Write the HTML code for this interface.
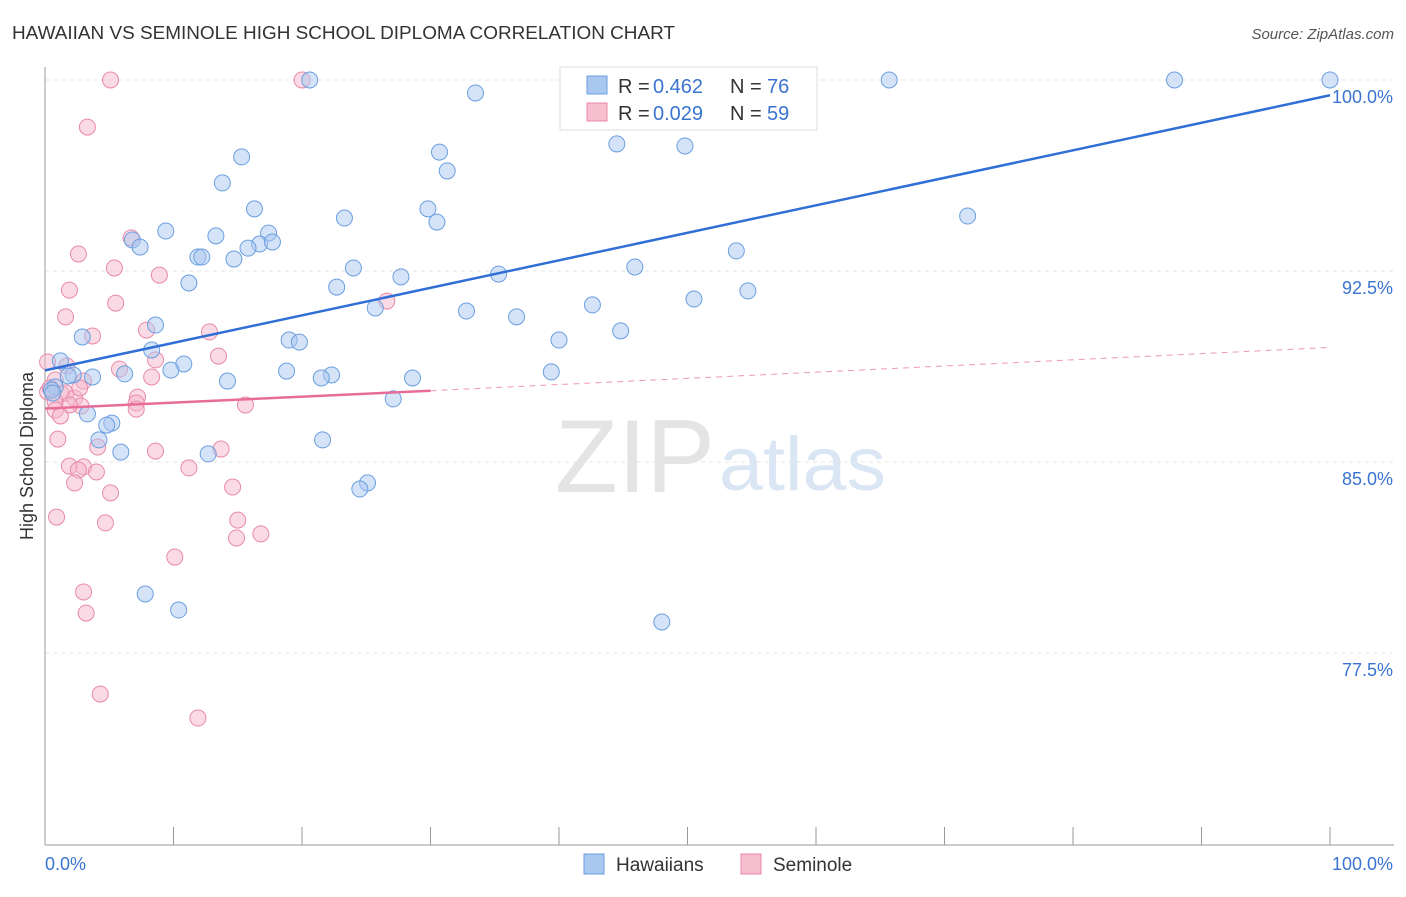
<!DOCTYPE html>
<html><head><meta charset="utf-8"><style>
body{margin:0;background:#fff;font-family:"Liberation Sans",sans-serif;}
svg text{font-family:"Liberation Sans",sans-serif;}
</style></head><body>
<svg id="chart" width="1406" height="892" xmlns="http://www.w3.org/2000/svg">
<text x="12" y="39" font-size="18" fill="#333" textLength="663" lengthAdjust="spacingAndGlyphs">HAWAIIAN VS SEMINOLE HIGH SCHOOL DIPLOMA CORRELATION CHART</text>
<text x="1394" y="39" font-size="15" fill="#555" text-anchor="end" font-style="italic">Source: ZipAtlas.com</text>
<text x="555" y="492" font-size="104" fill="#e4e4e4" font-family="Liberation Serif" textLength="160" lengthAdjust="spacingAndGlyphs">ZIP</text>
<text x="719" y="490" font-size="76" fill="#dbe6f5" textLength="167" lengthAdjust="spacingAndGlyphs">atlas</text>
<g id="grid"></g><g id="axes"></g><g id="pts"></g><g id="lines"></g>
<text transform="translate(33,456) rotate(-90)" font-size="18" fill="#333" text-anchor="middle">High School Diploma</text>
<g>
<rect x="560" y="67" width="257" height="63" fill="#fff" stroke="#ddd"/>
<rect x="587" y="76" width="20" height="18" fill="#a9c8f0" stroke="#6a9fe0"/>
<rect x="587" y="103" width="20" height="18" fill="#f7bed0" stroke="#e88aa8"/>
<text x="618" y="93" font-size="20" fill="#333">R =</text>
<text x="653" y="93" font-size="20" fill="#3a74d0">0.462</text>
<text x="730" y="93" font-size="20" fill="#333">N =</text>
<text x="767" y="93" font-size="20" fill="#3a74d0">76</text>
<text x="618" y="120" font-size="20" fill="#333">R =</text>
<text x="653" y="120" font-size="20" fill="#3a74d0">0.029</text>
<text x="730" y="120" font-size="20" fill="#333">N =</text>
<text x="767" y="120" font-size="20" fill="#3a74d0">59</text>
</g>
<g>
<rect x="584" y="854" width="20" height="20" fill="#a9c8f0" stroke="#6a9fe0"/>
<text x="616" y="871" font-size="19" fill="#333">Hawaiians</text>
<rect x="741" y="854" width="20" height="20" fill="#f7bed0" stroke="#e88aa8"/>
<text x="773" y="871" font-size="19" fill="#333">Seminole</text>
</g>
</svg>
<script>
const yTicks=[100,92.5,85,77.5];
const yTickLabels=["100.0%","92.5%","85.0%","77.5%"];
const xLabels=["0.0%","100.0%"];
const blueX=[20.6,33.5,65.7,87.9,100,44.5,49.8,30.7,15.3,31.3,13.8,16.3,29.8,23.3,30.5,71.8,9.4,17.4,13.3,6.8,7.4,16.7,17.7,15.8,11.9,12.2,14.7,24.0,35.3,45.9,53.8,27.7,11.2,22.7,54.7,50.5,42.6,25.7,32.8,36.7,44.8,8.6,2.9,19.0,19.8,40.0,8.3,1.2,10.8,9.8,18.8,39.4,2.2,3.7,6.2,22.3,21.5,28.6,14.2,0.8,0.5,27.1,3.3,5.2,4.8,4.2,21.6,5.9,12.7,25.1,24.5,7.8,10.4,48.0,0.6,1.8];
const blueY=[100,99.49,100,100,100,97.49,97.41,97.17,96.98,96.43,95.96,94.94,94.94,94.58,94.42,94.66,94.07,93.99,93.88,93.72,93.44,93.56,93.64,93.40,93.05,93.05,92.97,92.62,92.38,92.66,93.29,92.27,92.03,91.87,91.72,91.40,91.17,91.05,90.93,90.70,90.15,90.38,89.91,89.79,89.71,89.79,89.40,88.97,88.85,88.61,88.57,88.54,88.42,88.34,88.46,88.42,88.30,88.30,88.18,87.95,87.83,87.48,86.89,86.53,86.45,85.87,85.87,85.39,85.32,84.18,83.94,79.82,79.19,78.72,87.71,88.38];
const pinkX=[5.1,20.0,3.3,6.7,2.6,5.4,8.9,1.9,5.5,1.6,3.7,7.9,12.8,26.6,13.5,0.2,8.6,1.7,5.8,8.3,0.8,3.0,0.2,1.3,1.6,2.3,0.8,7.2,7.1,2.8,1.9,15.6,0.8,1.2,7.1,1.0,4.1,8.6,13.7,1.9,3.0,2.6,4.0,11.2,2.3,5.1,14.6,0.9,4.7,15.0,14.9,16.8,10.1,3.0,3.2,4.3,11.9,0.4,2.7];
const pinkY=[100,100,98.15,93.80,93.17,92.62,92.34,91.75,91.24,90.70,89.95,90.18,90.11,91.32,89.16,88.93,89.01,88.77,88.65,88.34,88.22,88.18,87.75,87.67,87.71,87.51,87.36,87.55,87.32,87.20,87.24,87.24,87.04,86.81,87.08,85.90,85.59,85.43,85.51,84.84,84.81,84.69,84.61,84.77,84.18,83.79,84.02,82.84,82.61,82.72,82.02,82.18,81.27,79.90,79.07,75.89,74.95,87.91,87.91];
const blueTrend=[[0,88.6],[100,99.4]];
const pinkTrend=[[0,87.1],[30,87.8],[100,89.5]];
const NS="http://www.w3.org/2000/svg";
const xs=v=>45+v*12.85, ys=v=>80+(100-v)*25.47;
function mk(t,a,p){const e=document.createElementNS(NS,t);for(const k in a)e.setAttribute(k,a[k]);document.getElementById(p).appendChild(e);return e;}
yTicks.forEach((t,i)=>{
 const l=mk('line',{x1:45,x2:1394,y1:ys(t),y2:ys(t),stroke:'#e6e6e6','stroke-dasharray':'4,4'},'grid');
 
 
 const tx=mk('text',{x:1393,y:ys(t)+23,'font-size':18,fill:'#3a74d0','text-anchor':'end'},'grid');tx.textContent=yTickLabels[i];
 
 
});
const ax=mk('line',{x1:45,x2:45,y1:67,y2:845,stroke:'#999'},'axes');


const bx=mk('line',{x1:45,x2:1394,y1:845,y2:845,stroke:'#999'},'axes');


for(let i=0;i<=10;i++){const t=mk('line',{x1:xs(i*10),x2:xs(i*10),y1:827,y2:845,stroke:'#999'},'axes');
 
 }
[[0,'start'],[100,'end']].forEach((p,i)=>{const t=mk('text',{x:i?1393:45,y:870,'font-size':18,fill:'#3a74d0','text-anchor':p[1]},'axes');t.textContent=xLabels[i];
 
 });
function dots(X,Y,f,s,n){X.forEach((x,i)=>{const c=mk('circle',{cx:xs(x),cy:ys(Y[i]),r:8,fill:f,'fill-opacity':0.5,stroke:s,'stroke-width':1},'pts');
 
 });}
dots(pinkX,pinkY,'#f5b8cc','#e88aa8','seminole-point');
dots(blueX,blueY,'#a9c8f0','#6a9fe0','hawaiian-point');
const b=mk('line',{x1:xs(blueTrend[0][0]),y1:ys(blueTrend[0][1]),x2:xs(blueTrend[1][0]),y2:ys(blueTrend[1][1]),stroke:'#2f6fd6','stroke-width':2.5},'lines');


const p1=mk('line',{x1:xs(pinkTrend[0][0]),y1:ys(pinkTrend[0][1]),x2:xs(pinkTrend[1][0]),y2:ys(pinkTrend[1][1]),stroke:'#e86c98','stroke-width':2.5},'lines');


const p2=mk('line',{x1:xs(pinkTrend[1][0]),y1:ys(pinkTrend[1][1]),x2:xs(pinkTrend[2][0]),y2:ys(pinkTrend[2][1]),stroke:'#e86c98','stroke-width':1,'stroke-dasharray':'6,5','stroke-opacity':0.7},'lines');


</script>
</body></html>
